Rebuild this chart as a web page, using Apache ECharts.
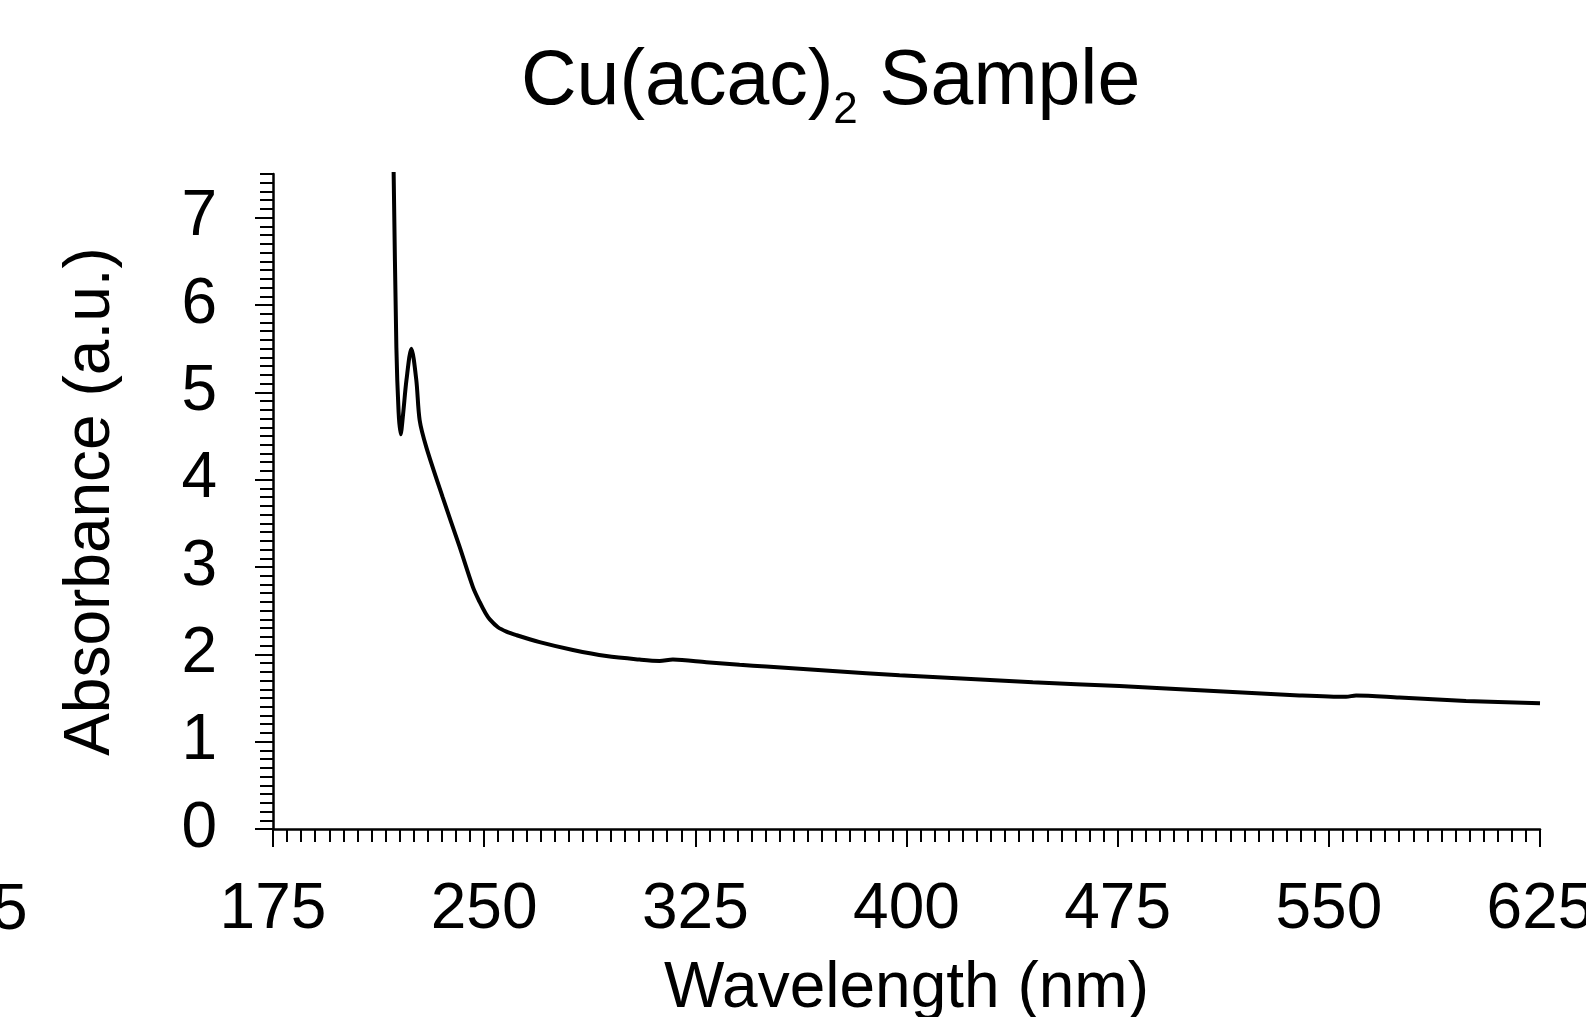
<!DOCTYPE html>
<html>
<head>
<meta charset="utf-8">
<script src="https://cdn.jsdelivr.net/npm/echarts@6/dist/echarts.min.js"></script>
<style>
html,body{margin:0;padding:0;background:#fff;}
#chart{width:1586px;height:1017px;}
</style>
</head>
<body>
<div id="chart"></div>
<script>
// Data
const wavelength = [217.7, 217.86, 218.82, 219.6, 220.34, 221.2, 222.4, 224.14, 225.9, 227.09, 229.47, 235.25, 241.29, 246.01, 248.4, 250.5, 252.0, 254.9, 257.9, 261.42, 269.70, 281.52, 293.38, 305.20, 312.30, 317.02, 328.88, 340.71, 350.19, 373.84, 397.52, 421.20, 444.85, 475.63, 492.21, 515.86, 539.55, 556.13, 559.68, 575.05, 598.73, 625.0];
const absorbance = [7.8, 7.49, 5.51, 4.78, 4.52, 4.75, 5.14, 5.50, 5.14, 4.68, 4.37, 3.80, 3.23, 2.77, 2.60, 2.47, 2.40, 2.31, 2.26, 2.22, 2.14, 2.05, 1.98, 1.94, 1.925, 1.94, 1.91, 1.88, 1.86, 1.81, 1.76, 1.72, 1.68, 1.636, 1.61, 1.57, 1.53, 1.513, 1.53, 1.506, 1.467, 1.44];
const xTickValues = [175, 250, 325, 400, 475, 550, 625];
const yTickValues = [0, 1, 2, 3, 4, 5, 6, 7];

const FONT = 'Liberation Sans, Arial, sans-serif';
const chart = echarts.init(document.getElementById('chart'), null, {renderer: 'canvas'});
const points = wavelength.map((w, i) => [w, absorbance[i]]);

chart.setOption({
  backgroundColor: '#ffffff',
  animation: false,
  title: {
    text: '{m|Cu(acac)}{s|2}{m| Sample}',
    left: 521,
    top: 33,
    padding: 0,
    textStyle: {
      fontWeight: 'normal',
      rich: {
        m: {fontSize: 77, fontFamily: FONT, fontWeight: 'normal', color: '#000', lineHeight: 100},
        s: {fontSize: 44, fontFamily: FONT, fontWeight: 'normal', color: '#000', lineHeight: 44, verticalAlign: 'bottom'}
      }
    }
  },
  grid: {left: 273, right: 46, top: 174, bottom: 188, containLabel: false, outerBoundsMode: 'none'},
  xAxis: [
    {
      type: 'value', min: 175, max: 625, position: 'bottom',
      name: 'Wavelength (nm)', nameLocation: 'middle', nameGap: 128,
      nameTextStyle: {fontSize: 64, fontFamily: FONT, color: '#000'},
      axisLine: {show: true, onZero: false, lineStyle: {color: '#000', width: 2.5}},
      axisTick: {show: true, length: 18, customValues: xTickValues, lineStyle: {color: '#000', width: 2}},
      axisLabel: {show: true, customValues: xTickValues, margin: 49, fontSize: 64, fontFamily: FONT, color: '#000'},
      splitLine: {show: false}
    },
    {
      type: 'value', min: 175, max: 625, interval: 5, position: 'bottom',
      axisLine: {show: false},
      axisTick: {show: true, length: 13, lineStyle: {color: '#000', width: 2}},
      axisLabel: {show: false},
      splitLine: {show: false}
    }
  ],
  yAxis: [
    {
      type: 'value', min: 0, max: 7.5, position: 'left',
      name: 'Absorbance (a.u.)', nameLocation: 'middle', nameGap: 150, nameRotate: 90,
      nameTextStyle: {fontSize: 64, fontFamily: FONT, color: '#000'},
      axisLine: {show: true, onZero: false, lineStyle: {color: '#000', width: 2.5}},
      axisTick: {show: true, length: 18, customValues: yTickValues, lineStyle: {color: '#000', width: 2}},
      axisLabel: {show: true, customValues: yTickValues, margin: 56, fontSize: 64, fontFamily: FONT, color: '#000'},
      splitLine: {show: false}
    },
    {
      type: 'value', min: 0, max: 7.5, interval: 0.1, position: 'left',
      axisLine: {show: false},
      axisTick: {show: true, length: 13, lineStyle: {color: '#000', width: 2}},
      axisLabel: {show: false},
      splitLine: {show: false}
    }
  ],
  graphic: [
    {type: 'text', left: -8, top: 879, style: {text: '5', fontSize: 64, fontFamily: FONT, fill: '#000'}}
  ],
  series: [
    {
      type: 'line', xAxisIndex: 0, yAxisIndex: 0,
      data: points, showSymbol: false, smooth: 0.3, clip: true,
      lineStyle: {color: '#000', width: 4}
    }
  ]
});
</script>
</body>
</html>
